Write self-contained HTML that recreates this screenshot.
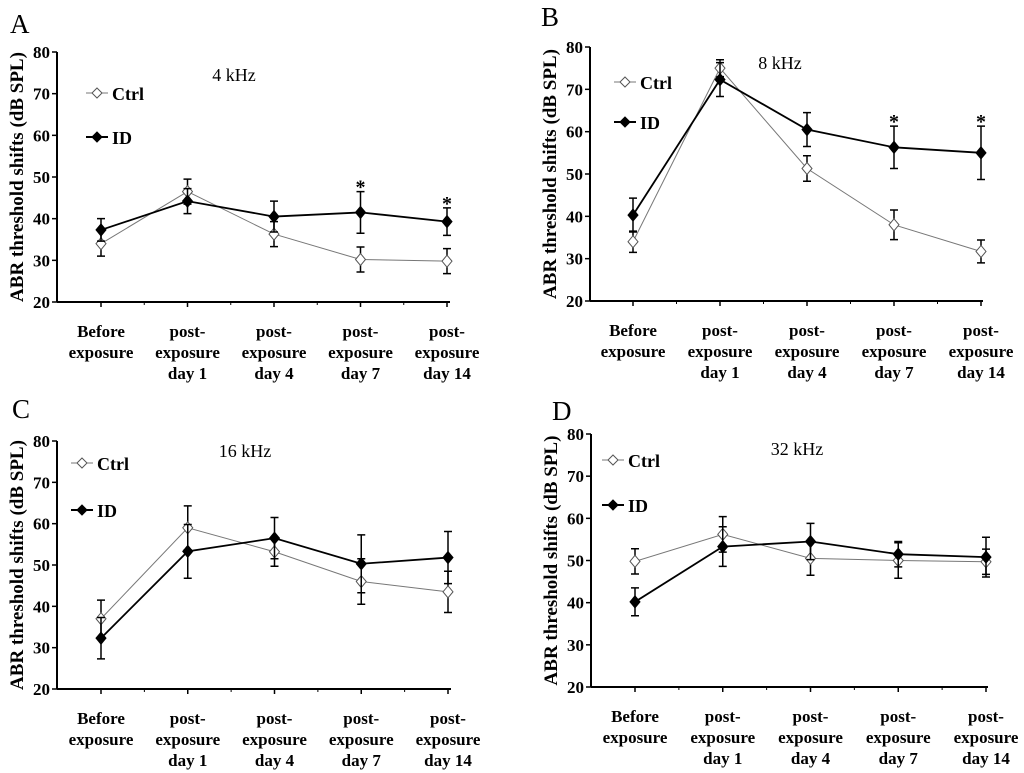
<!DOCTYPE html>
<html><head><meta charset="utf-8"><style>
html,body{margin:0;padding:0;background:#fff;}
svg{display:block;font-family:"Liberation Serif",serif;}
</style></head><body>
<svg id="fig" width="1024" height="773" viewBox="0 0 1024 773"></svg>
<script>
const categories=[["Before","exposure"],["post-","exposure","day 1"],["post-","exposure","day 4"],["post-","exposure","day 7"],["post-","exposure","day 14"]];
const yTicks=[20,30,40,50,60,70,80];
const ctrlA=[34,46.5,36.3,30.2,29.8], ctrlErrA=[3,3,3,3,3];
const idA=[37.3,44.2,40.5,41.5,39.3], idErrA=[2.7,3,3.7,5,3.3];
const starsA=[3,4];
const ctrlB=[34,75,51.3,38,31.7], ctrlErrB=[2.5,2,3,3.5,2.7];
const idB=[40.3,72.3,60.5,56.3,55], idErrB=[4,4,4,5,6.3];
const starsB=[3,4];
const ctrlC=[37,59,53.2,46,43.5], ctrlErrC=[4.5,5.3,3.5,5.5,5];
const idC=[32.3,53.3,56.5,50.3,51.8], idErrC=[5,6.5,5,7,6.3];
const starsC=[];
const ctrlD=[49.8,56.2,50.5,50,49.7], ctrlErrD=[3,4.2,4,4.2,3];
const idD=[40.2,53.3,54.5,51.5,50.8], idErrD=[3.3,4.7,4.3,3,4.7];
const starsD=[];
const titles=["4 kHz","8 kHz","16 kHz","32 kHz"];
const letters=["A","B","C","D"];

const NS="http://www.w3.org/2000/svg";
const svg=document.getElementById('fig');
function mk(tag,attrs,parent,text){const e=document.createElementNS(NS,tag);for(const k in attrs)e.setAttribute(k,attrs[k]);if(text!==undefined)e.textContent=text;(parent||svg).appendChild(e);return e;}

const panels=[
 {ax:57,x0:101,x4:447,yTop:52,yBot:302,axEnd:450,ctrl:ctrlA,ce:ctrlErrA,id:idA,ie:idErrA,stars:starsA,title:[234,81],leg:[86,93,137],let:[10,33]},
 {ax:590,x0:633,x4:981,yTop:47,yBot:301,axEnd:983,ctrl:ctrlB,ce:ctrlErrB,id:idB,ie:idErrB,stars:starsB,title:[780,69],leg:[614,82,122],let:[541,26]},
 {ax:57,x0:101,x4:448,yTop:441,yBot:689,axEnd:451,ctrl:ctrlC,ce:ctrlErrC,id:idC,ie:idErrC,stars:starsC,title:[245,457],leg:[71,463,510],let:[12,418]},
 {ax:591,x0:635,x4:986,yTop:434,yBot:687,axEnd:988,ctrl:ctrlD,ce:ctrlErrD,id:idD,ie:idErrD,stars:starsD,title:[797,455],leg:[602,460,505],let:[552,420]}
];

panels.forEach((p,pi)=>{
  const g=mk('g',{});
  
  
  const xS=i=>p.x0+(p.x4-p.x0)*i/4;
  const yS=v=>p.yBot-(v-20)/60*(p.yBot-p.yTop);
  const L=mk('text',{x:p.let[0],y:p.let[1],'font-size':27},g,letters[pi]);
  
  const ya=mk('line',{x1:p.ax,y1:p.yTop,x2:p.ax,y2:p.yBot,stroke:'#000','stroke-width':2},g);
  
  const xa=mk('line',{x1:p.ax,y1:p.yBot,x2:p.axEnd,y2:p.yBot,stroke:'#000','stroke-width':2},g);
  
  yTicks.forEach(t=>{
    mk('line',{x1:p.ax-5,y1:yS(t),x2:p.ax,y2:yS(t),stroke:'#000','stroke-width':1.5},g);
    const tl=mk('text',{x:p.ax-7,y:yS(t)+6,'font-size':17,'font-weight':'bold','text-anchor':'end'},g,t);
    
  });
  const yt=mk('text',{x:0,y:0,'font-size':19,'font-weight':'bold','text-anchor':'middle',transform:`translate(${p.ax-34},${(p.yTop+p.yBot)/2}) rotate(-90)`},g,'ABR threshold shifts (dB SPL)');
  
  categories.forEach((c,i)=>{
    mk('line',{x1:xS(i),y1:p.yBot,x2:xS(i),y2:p.yBot+5,stroke:'#000','stroke-width':1.5},g);
    if(i<4)mk('line',{x1:(xS(i)+xS(i+1))/2,y1:p.yBot,x2:(xS(i)+xS(i+1))/2,y2:p.yBot+3,stroke:'#000','stroke-width':1},g);
    c.forEach((s,j)=>{
      const xl=mk('text',{x:xS(i),y:p.yBot+35+j*21,'font-size':17,'font-weight':'bold','text-anchor':'middle'},g,s);
      
    });
  });
  const tt=mk('text',{x:p.title[0],y:p.title[1],'font-size':18,'text-anchor':'middle'},g,titles[pi]);
  
  [[p.ctrl,p.ce,'#777',1,'#fff','ctrl'],[p.id,p.ie,'#000',1.8,'#000','id']].forEach(([vals,errs,col,w,fill,nm])=>{
    vals.forEach((v,i)=>{
      const x=xS(i),y1=yS(v+errs[i]),y2=yS(v-errs[i]);
      const eb=mk('path',{d:`M${x},${y1}V${y2}M${x-4},${y1}H${x+4}M${x-4},${y2}H${x+4}`,stroke:'#000','stroke-width':1.5,fill:'none'},g);
      
    });
    const ln=mk('polyline',{points:vals.map((v,i)=>xS(i)+','+yS(v)).join(' '),stroke:col,'stroke-width':w,fill:'none'},g);
    
    vals.forEach((v,i)=>{
      const x=xS(i),y=yS(v);
      const m=mk('path',{d:`M${x},${y-6}L${x+5},${y}L${x},${y+6}L${x-5},${y}Z`,fill:fill,stroke:nm=='ctrl'?'#555':'#000','stroke-width':1},g);
      
    });
  });
  p.stars.forEach(i=>{
    const s=mk('text',{x:xS(i),y:yS(p.id[i]+p.ie[i])+2,'font-size':20,'font-weight':'bold','text-anchor':'middle'},g,'*');
    
  });
  [['Ctrl',p.leg[1],'#777',1,'#fff'],['ID',p.leg[2],'#000',2,'#000']].forEach(([lab,ly,col,w,fill])=>{
    const lg=mk('g',{},g);
    
    const lx=p.leg[0];
    mk('line',{x1:lx,y1:ly,x2:lx+22,y2:ly,stroke:col,'stroke-width':w},lg);
    mk('path',{d:`M${lx+11},${ly-5}L${lx+16},${ly}L${lx+11},${ly+5}L${lx+6},${ly}Z`,fill:fill,stroke:lab=='Ctrl'?'#555':'#000'},lg);
    mk('text',{x:lx+26,y:ly+7,'font-size':18,'font-weight':'bold'},lg,lab);
  });
});
</script>
</body></html>
